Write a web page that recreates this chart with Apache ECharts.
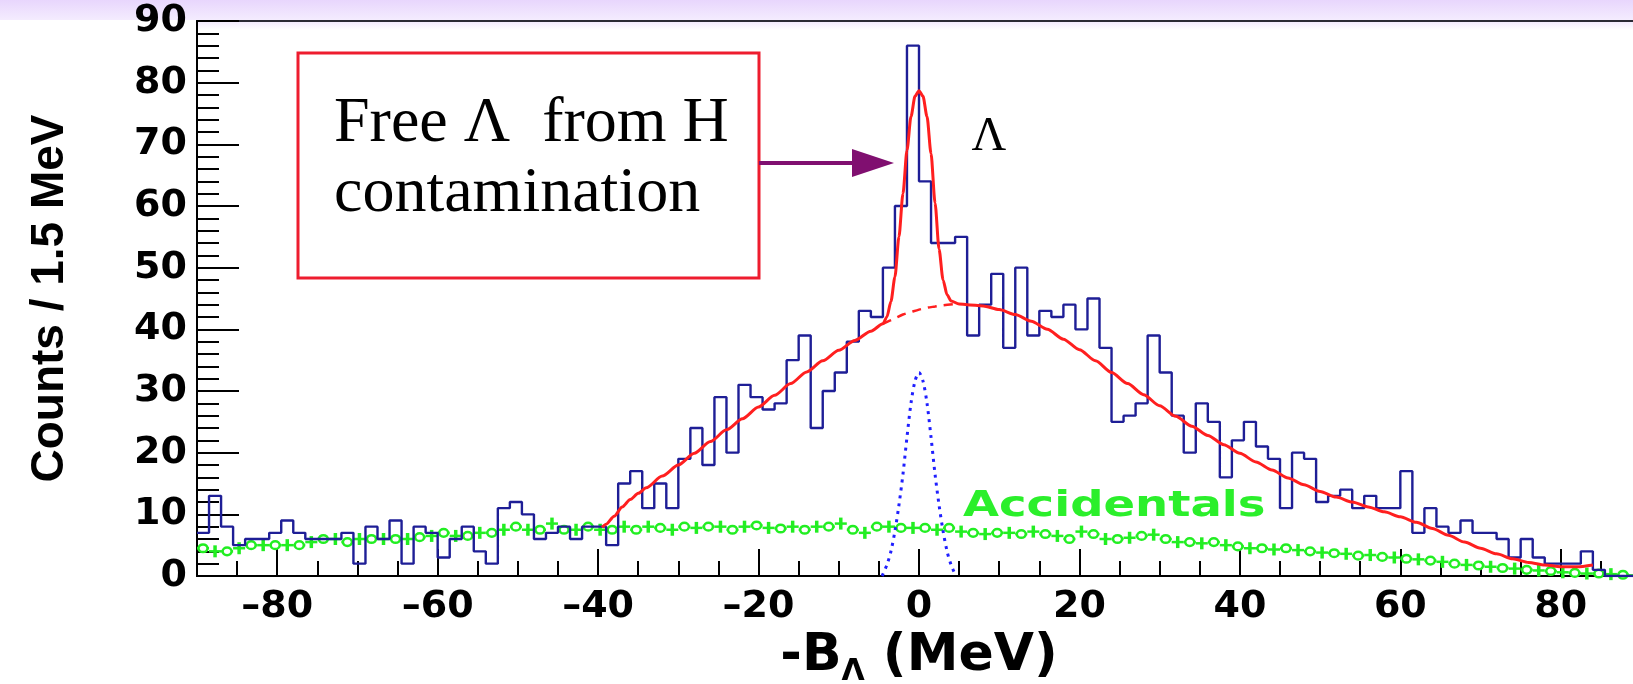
<!DOCTYPE html>
<html>
<head>
<meta charset="utf-8">
<script src="https://cdn.jsdelivr.net/npm/echarts@6/dist/echarts.min.js"></script>
<style>
  html, body { margin: 0; padding: 0; background: #ffffff; }
  #chart { width: 1633px; height: 684px; }
</style>
</head>
<body>
<div id="chart"></div>
<script>
// Missing-mass spectrum, 1.5 MeV bins from -90 to +90 MeV
const binWidth = 1.5;
const xStart = -90;

// Measured counts per bin (120 bins)
const counts = [
  7, 13, 8, 5, 6, 6, 7, 9, 7, 6,
  6, 6, 7, 2, 8, 6, 9, 2, 8, 7,
  3, 6, 8, 4, 2, 11, 12, 10, 6, 7,
  8, 6, 8, 8, 5, 15, 17, 11, 15, 11,
  19, 24, 18, 29, 20, 31, 29, 27, 28, 35,
  39, 24, 30, 33, 38, 43, 42, 50, 60, 86,
  64, 54, 54, 55, 39, 44, 49, 37, 50, 39,
  43, 42, 44, 40, 45, 37, 25, 26, 28, 39,
  33, 26, 20, 28, 25, 16, 22, 25, 21, 19,
  11, 20, 19, 12, 13, 14, 11, 13, 11, 11,
  17, 7, 11, 8, 7, 9, 7, 7, 6, 3,
  6, 3, 2, 2, 2, 4, 1, 0, 0, 0
];

// Accidental-coincidence background per bin (bin centres)
const accidentals = [
  4.5, 4, 4, 4.5, 5, 5, 5, 5, 5, 5.5,
  6, 6, 5.5, 6, 6, 6, 6, 6, 6.3, 6.5,
  7, 6.5, 6.5, 7, 7, 7.5, 8, 7.5, 7.5, 8.5,
  7.5, 7.5, 8, 7.5, 7.5, 8, 7.5, 8, 7.8, 7.5,
  8, 7.8, 8, 8, 7.5, 8, 8.2, 7.8, 7.7, 8,
  7.5, 8, 8, 8.5, 7.5, 7, 8, 8, 7.8, 7.8,
  7.8, 7.5, 7.8, 7.2, 7, 6.8, 7, 7, 6.8, 7.2,
  6.8, 6.5, 6, 7.2, 6.8, 6, 6, 6.2, 6.5, 6.7,
  6, 5.5, 5.5, 5.3, 5.5, 5, 4.8, 4.5, 4.5, 4.3,
  4.5, 4.2, 4, 3.8, 3.7, 3.6, 3.3, 3.4, 3.1, 3,
  2.8, 2.7, 2.5, 2.3, 2, 1.8, 1.7, 1.5, 1.3, 1.2,
  1, 0.9, 0.8, 0.6, 0.5, 0.4, 0.4, 0.3, 0.2, 0.1
];

// Total fit: broad quasi-free shape plus the narrow free-Lambda peak
const fitTotal = [
  [-39.5, 7.9], [-39, 8.4], [-38, 9.7], [-37, 11.2], [-36, 12.4], [-35, 13.4],
  [-34, 14.3], [-32, 16.2], [-30, 18], [-28, 19.9], [-26, 21.8], [-24, 23.7],
  [-22, 25.5], [-20, 27.4], [-18, 29.3], [-16, 31.2], [-14, 33.1], [-12, 34.9],
  [-10, 36.6], [-8, 38.2], [-6, 39.7], [-4.5, 40.9], [-4, 42], [-3.5, 44.5],
  [-3, 48.5], [-2.5, 55], [-2, 62], [-1.5, 69], [-1, 74.5], [-0.5, 77.8],
  [0, 78.7], [0.5, 77.8], [1, 74.5], [1.5, 68.5], [2, 60.5], [2.5, 53],
  [3, 48], [3.5, 45.6], [4, 44.6], [5, 44.1], [6, 44], [8, 43.8],
  [10, 43.2], [12, 42.4], [14, 41.3], [16, 40], [18, 38.4], [20, 36.7],
  [22, 34.9], [24, 33], [26, 31.2], [28, 29.4], [30, 27.6], [32, 25.9],
  [34, 24.3], [36, 22.8], [38, 21.3], [40, 19.9], [42, 18.5], [44, 17.2],
  [46, 15.9], [48, 14.8], [50, 13.7], [52, 12.8], [54, 12], [56, 11.2],
  [58, 10.4], [60, 9.6], [62, 8.7], [64, 7.7], [66, 6.6], [68, 5.5],
  [70, 4.5], [72, 3.6], [74, 2.8], [76, 2.2], [78, 1.8], [80, 1.5],
  [82, 1.5], [84, 1.8]
];

// Broad component underneath the peak
const fitBroadUnderPeak = [
  [-4.5, 40.9], [-3, 41.8], [-2, 42.4], [-1, 42.8], [0, 43.2],
  [1, 43.5], [2, 43.7], [3, 43.9], [4.5, 44.1]
];

// Free-Lambda peak shape alone
const lambdaPeak = [
  [-4.6, 0], [-4, 1.8], [-3.5, 4], [-3, 7.3], [-2.5, 11.5], [-2, 16.5],
  [-1.5, 22.5], [-1, 28], [-0.5, 31.6], [0, 33], [0.5, 31.6], [1, 28],
  [1.5, 22.5], [2, 16.5], [2.5, 11.5], [3, 7.3], [3.5, 4], [4, 1.8], [4.6, 0]
];

// Axis ticks
const xTickValues = [-80, -60, -40, -20, 0, 20, 40, 60, 80];
const yTickValues = [0, 10, 20, 30, 40, 50, 60, 70, 80, 90];

const BLUE = '#1e1e96';
const RED = '#ff1f1f';
const GREEN = '#22ee22';

// Step outline: left edge of every bin, closed at the right end of the last bin
const histData = counts.map((c, i) => [xStart + i * binWidth, c]);
histData.push([xStart + counts.length * binWidth, counts[counts.length - 1]]);

const accData = accidentals.map((v, i) => [xStart + (i + 0.5) * binWidth, v]);

const chart = echarts.init(document.getElementById('chart'));

const numFmt = v => (v < 0 ? '\u2013' + Math.abs(v) : String(v));
const labelFont = { fontFamily: 'DejaVu Sans', fontWeight: 'bold', fontSize: 38, color: '#000' };

chart.setOption({
  animation: false,
  backgroundColor: '#ffffff',
  grid: {
    left: 197, top: 21, width: 1444, height: 555,
    outerBoundsMode: 'none', containLabel: false,
    show: true, borderColor: '#2a2a35', borderWidth: 2, backgroundColor: 'transparent'
  },
  xAxis: [
    {
      type: 'value', min: -90, max: 90, interval: 5,
      axisLine: { show: true, onZero: false, lineStyle: { color: '#000', width: 2 } },
      axisTick: { show: true, inside: true, length: 15, lineStyle: { color: '#000', width: 2 } },
      axisLabel: { show: false },
      splitLine: { show: false }
    },
    {
      type: 'value', min: -90, max: 90, interval: 5, position: 'bottom',
      axisLine: { show: false, onZero: false },
      axisTick: { show: true, inside: true, length: 27, customValues: xTickValues,
                  lineStyle: { color: '#000', width: 2 } },
      axisLabel: Object.assign({ show: true, customValues: xTickValues, formatter: numFmt, margin: 12 }, labelFont),
      splitLine: { show: false },
      name: '{m|-B}{s|\u039B}{m| (MeV)}',
      nameLocation: 'middle', nameGap: 43,
      nameTextStyle: {
        rich: {
          m: { fontFamily: 'DejaVu Sans', fontWeight: 'bold', fontSize: 52, color: '#000' },
          s: { fontFamily: 'DejaVu Sans', fontWeight: 'bold', fontSize: 30, color: '#000',
               verticalAlign: 'bottom', padding: [0, 0, -4, 0] }
        }
      }
    }
  ],
  yAxis: {
    type: 'value', min: 0, max: 90, interval: 10,
    axisLine: { show: true, onZero: false, lineStyle: { color: '#000', width: 2 } },
    axisTick: { show: true, inside: true, length: 42, lineStyle: { color: '#000', width: 2 } },
    minorTick: { show: true, splitNumber: 5, length: 22, lineStyle: { color: '#000', width: 2 } },
    axisLabel: Object.assign({ margin: 10, formatter: numFmt }, labelFont),
    splitLine: { show: false },
    name: 'Counts / 1.5 MeV',
    nameLocation: 'middle', nameGap: 124, nameRotate: 90,
    nameTextStyle: { fontFamily: 'Liberation Sans', fontWeight: 'bold', fontSize: 46, color: '#000' }
  },
  series: [
    {
      name: 'Accidentals', type: 'custom', xAxisIndex: 0, z: 3,
      renderItem(params, api) {
        const x = api.value(0), v = api.value(1);
        const p = api.coord([x, v]);
        const l = api.coord([x - binWidth / 2, v]);
        const r = api.coord([x + binWidth / 2, v]);
        const children = [{
          type: 'line', shape: { x1: l[0], y1: p[1], x2: r[0], y2: p[1] },
          style: { stroke: GREEN, lineWidth: 2.5 }
        }];
        if (params.dataIndex % 2 === 0) {
          children.push({ type: 'ellipse', shape: { cx: p[0], cy: p[1], rx: 4.5, ry: 3.8 },
                          style: { stroke: GREEN, fill: '#ffffff', lineWidth: 2.5 } });
        } else {
          children.push({ type: 'line', shape: { x1: p[0], y1: p[1] - 6, x2: p[0], y2: p[1] + 6 },
                          style: { stroke: GREEN, lineWidth: 3.5 } });
        }
        return { type: 'group', children };
      },
      data: accData
    },
    {
      name: 'Data', type: 'line', xAxisIndex: 0, step: 'end', symbol: 'none', z: 4,
      lineStyle: { color: BLUE, width: 2.4 },
      data: histData
    },
    {
      name: 'Lambda peak', type: 'line', xAxisIndex: 0, symbol: 'none', smooth: 0.3, z: 5,
      lineStyle: { color: '#1f1fff', width: 3, type: [3, 5] },
      data: lambdaPeak
    },
    {
      name: 'Broad component', type: 'line', xAxisIndex: 0, symbol: 'none', smooth: 0.3, z: 5,
      lineStyle: { color: RED, width: 2.5, type: [9, 7] },
      data: fitBroadUnderPeak
    },
    {
      name: 'Fit', type: 'line', xAxisIndex: 0, symbol: 'none', smooth: 0.25, smoothMonotone: 'x', z: 6,
      lineStyle: { color: RED, width: 3 },
      data: fitTotal
    }
  ],
  graphic: [
    // lavender banner across the top
    { type: 'rect', z: 0, silent: true, shape: { x: 0, y: 0, width: 1633, height: 20 },
      style: { fill: new echarts.graphic.LinearGradient(0, 0, 0, 1, [
        { offset: 0, color: '#e8d6fd' }, { offset: 1, color: '#f4ecfe' }]) } },
    { type: 'rect', z: 0, silent: true, shape: { x: 197, y: 22, width: 1436, height: 8 },
      style: { fill: new echarts.graphic.LinearGradient(0, 0, 0, 1, [
        { offset: 0, color: '#f3ebfe' }, { offset: 1, color: '#ffffff' }]) } },
    // annotation box
    { type: 'rect', z: 50, shape: { x: 298, y: 53, width: 461, height: 225 },
      style: { fill: '#ffffff', stroke: '#ee1c2e', lineWidth: 3 } },
    { type: 'text', z: 51, x: 334, y: 92,
      style: { text: 'Free \u039B  from H', font: '64px "Liberation Serif"', fill: '#000',
               textVerticalAlign: 'top' } },
    { type: 'text', z: 51, x: 334, y: 162,
      style: { text: 'contamination', font: '64px "Liberation Serif"', fill: '#000',
               textVerticalAlign: 'top' } },
    // arrow towards the peak
    { type: 'line', z: 51, shape: { x1: 759, y1: 163, x2: 856, y2: 163 },
      style: { stroke: '#800f70', lineWidth: 4 } },
    { type: 'polygon', z: 51, shape: { points: [[852, 149], [894, 163], [852, 177]] },
      style: { fill: '#800f70' } },
    // peak label
    { type: 'text', z: 51, x: 989, y: 113,
      style: { text: '\u039B', font: '48px "Liberation Serif"', fill: '#000',
               textAlign: 'center', textVerticalAlign: 'top' } },
    // background label
    { type: 'text', z: 51, x: 963, y: 489, scaleX: 1.33,
      style: { text: 'Accidentals', font: 'bold 35px "DejaVu Sans"', fill: '#2bef2b',
               textVerticalAlign: 'top' } }
  ]
});
</script>
</body>
</html>
